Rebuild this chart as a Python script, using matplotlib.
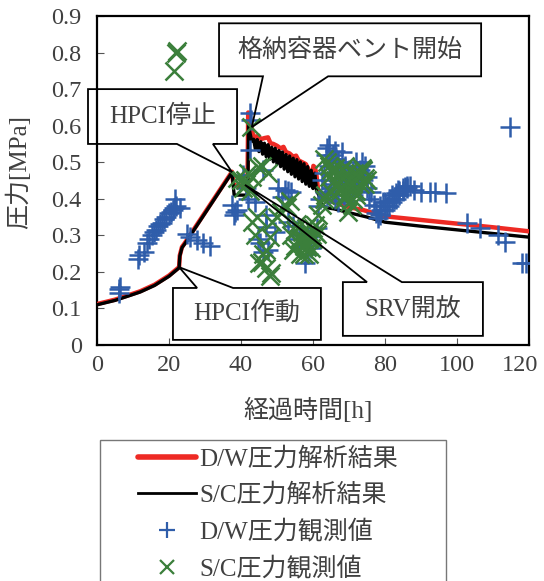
import matplotlib
matplotlib.use("Agg")
import matplotlib.pyplot as plt
from matplotlib.patches import Polygon, Rectangle
from matplotlib.lines import Line2D
from matplotlib.transforms import ScaledTranslation

plt.rcParams['font.family'] = ['Liberation Serif', 'Noto Sans CJK JP']

# ---- analysis results (time [h], pressure [MPa]) ----
dw_calc_t = [0, 5, 9, 12, 16, 20, 22.8, 23.0, 23.6, 24.4, 37.5, 37.9, 38.3, 41.8, 42.0, 42.5,
             43.3, 44.0, 44.8, 45.5, 46.5, 47.5, 48.2, 49.0, 50.0, 51.0, 51.8, 52.5, 53.5,
             54.5, 55.3, 56.0, 57.0, 58.0, 58.8, 59.3, 59.8, 60.1, 60.5, 60.9, 61.4, 62.2,
             64.0, 67.0, 70.0, 74.0, 80.0, 90.0, 100.0, 110.0, 120.0]
dw_calc_p = [0.112, 0.124, 0.137, 0.147, 0.165, 0.190, 0.213, 0.245, 0.268, 0.279, 0.474, 0.440,
             0.436, 0.436, 0.636, 0.622, 0.576, 0.567, 0.573, 0.563, 0.566, 0.568, 0.552,
             0.550, 0.545, 0.538, 0.542, 0.528, 0.524, 0.515, 0.518, 0.505, 0.500, 0.495,
             0.480, 0.452, 0.442, 0.490, 0.486, 0.470, 0.425, 0.410, 0.397, 0.386, 0.377,
             0.369, 0.352, 0.342, 0.332, 0.322, 0.311]

sc_calc_t = [0, 5, 9, 12, 16, 20, 22.8, 23.0, 23.6, 24.4, 37.5, 38.1, 41.5, 41.9, 42.1, 42.6,
             43.0, 43.5, 44.0, 44.5, 45.0, 45.5, 46.0, 46.5, 47.0, 47.5, 48.0, 48.5, 49.0,
             49.5, 50.0, 50.5, 51.0, 51.5, 52.0, 52.5, 53.0, 53.5, 54.0, 54.5, 55.0, 55.5,
             56.0, 56.5, 57.0, 57.5, 58.0, 58.5, 59.0, 59.5, 60.0, 60.5, 61.0, 61.5, 62.5,
             63.5, 66.0, 70.0, 75.0, 80.0, 90.0, 100.0, 110.0, 120.0]
sc_calc_p = [0.110, 0.122, 0.135, 0.145, 0.163, 0.188, 0.211, 0.243, 0.266, 0.277, 0.472, 0.410,
             0.410, 0.420, 0.600, 0.575, 0.558, 0.563, 0.535, 0.562, 0.529, 0.556, 0.522,
             0.552, 0.515, 0.548, 0.508, 0.541, 0.501, 0.538, 0.495, 0.532, 0.488, 0.528,
             0.481, 0.521, 0.474, 0.517, 0.467, 0.511, 0.460, 0.507, 0.454, 0.501, 0.447,
             0.496, 0.440, 0.488, 0.434, 0.478, 0.428, 0.470, 0.421, 0.412, 0.385, 0.376,
             0.372, 0.362, 0.350, 0.336, 0.325, 0.315, 0.305, 0.295]

# ---- observed values ----
dw_obs_t = [6.0, 6.2, 6.4, 11.5, 11.8, 13.0, 14.0, 14.5, 15.2, 15.8, 16.5, 17.0, 17.5, 18.0,
            18.5, 19.2, 20.0, 20.5, 21.0, 21.5, 22.0, 21.8, 23.0, 25.0, 25.8, 27.7, 29.5,
            31.3, 37.5, 38.0, 38.3, 38.9, 40.6, 41.5, 42.0, 42.5, 42.8, 42.5, 44.0, 44.8,
            45.2, 46.0, 47.5, 46.0, 47.0, 47.0, 49.5, 50.3, 51.5, 52.2, 53.0, 54.0, 53.0,
            54.5, 57.0, 57.8, 58.5, 59.5, 56.0, 61.0, 63.3, 63.5, 64.0, 64.5, 65.0, 66.0,
            67.0, 68.0, 69.0, 70.0, 71.0, 72.0, 73.6, 74.5, 64.0, 65.0, 66.0, 68.0, 70.0,
            72.0, 74.0, 75.0, 76.0, 77.0, 77.5, 78.0, 78.5, 79.0, 80.0, 80.5, 81.0, 82.0,
            82.5, 83.0, 83.6, 84.0, 85.0, 85.5, 86.0, 90.0, 92.5, 94.0, 97.0, 102.8, 106.4,
            111.4, 113.3, 114.7, 118.0, 119.2,
            62.5, 63.0, 64.5, 65.5, 66.5, 67.5, 68.5, 69.5, 70.5, 71.5, 72.5, 73.0, 74.0,
            75.0, 66.0, 67.0, 68.5, 71.0, 73.0, 75.5, 61.5, 62.0, 78.5, 79.5, 80.0, 81.0,
            82.0, 83.0, 84.0, 85.0, 86.0, 87.0, 88.0]
dw_obs_p = [0.142, 0.152, 0.160, 0.235, 0.245, 0.255, 0.280, 0.290, 0.300, 0.310, 0.315, 0.325,
            0.330, 0.335, 0.345, 0.350, 0.360, 0.365, 0.370, 0.375, 0.380, 0.400, 0.375,
            0.305, 0.296, 0.287, 0.280, 0.270, 0.383, 0.355, 0.365, 0.370, 0.465, 0.430,
            0.400, 0.636, 0.615, 0.533, 0.390, 0.290, 0.280, 0.255, 0.260, 0.480, 0.355,
            0.322, 0.310, 0.430, 0.405, 0.424, 0.420, 0.418, 0.336, 0.325, 0.300, 0.224,
            0.250, 0.265, 0.290, 0.320, 0.418, 0.520, 0.540, 0.547, 0.510, 0.530, 0.500,
            0.528, 0.490, 0.480, 0.470, 0.500, 0.500, 0.490, 0.410, 0.430, 0.440, 0.450,
            0.430, 0.440, 0.450, 0.430, 0.418, 0.383, 0.360, 0.347, 0.355, 0.370, 0.390,
            0.380, 0.395, 0.410, 0.400, 0.415, 0.424, 0.420, 0.430, 0.432, 0.435, 0.418,
            0.418, 0.418, 0.415, 0.333, 0.320, 0.300, 0.282, 0.596, 0.224, 0.224,
            0.450, 0.470, 0.490, 0.520, 0.510, 0.470, 0.460, 0.440, 0.450, 0.460, 0.470,
            0.480, 0.470, 0.460, 0.400, 0.390, 0.410, 0.410, 0.420, 0.400, 0.380, 0.400,
            0.380, 0.390, 0.370, 0.380, 0.390, 0.400, 0.410, 0.420, 0.430, 0.435, 0.425]

sc_obs_t = [21.5, 22.0, 22.3, 42.8, 39.0, 40.0, 41.0, 41.5, 40.5, 42.0, 43.0, 44.8, 45.8,
            47.5, 42.5, 43.0, 44.0, 44.4, 45.0, 45.8, 46.0, 47.0, 48.0, 48.2, 48.0, 47.0,
            48.7, 50.0, 51.0, 52.0, 52.7, 53.5, 54.0, 55.0, 55.5, 56.0, 57.0, 57.5, 58.3,
            59.0, 59.7, 60.0, 60.6, 61.4, 62.5, 63.0, 63.3, 54.5, 56.5, 58.0, 59.5, 61.0,
            63.0, 64.0, 65.0, 66.0, 67.0, 68.0, 68.5, 69.0, 69.8, 70.8, 71.5, 72.6, 73.6,
            74.4, 70.8, 72.0, 65.0, 66.5, 67.5, 71.0, 73.0, 74.0, 64.5, 69.0,
            64.5, 65.5, 66.0, 67.0, 68.0, 69.5, 70.0, 71.0, 72.0, 73.0, 74.5, 75.0, 67.5,
            68.5, 70.0, 72.0, 55.0, 56.0, 57.0, 58.0, 59.0, 60.0, 57.5, 59.0, 60.5, 58.0]
sc_obs_p = [0.750, 0.800, 0.805, 0.595, 0.457, 0.450, 0.450, 0.440, 0.430, 0.470, 0.460,
            0.487, 0.490, 0.470, 0.420, 0.336, 0.300, 0.350, 0.224, 0.227, 0.250, 0.210,
            0.190, 0.197, 0.295, 0.260, 0.336, 0.350, 0.365, 0.383, 0.378, 0.395, 0.300,
            0.315, 0.330, 0.290, 0.290, 0.270, 0.268, 0.300, 0.300, 0.320, 0.328, 0.355,
            0.383, 0.400, 0.410, 0.260, 0.250, 0.280, 0.265, 0.305, 0.510, 0.500, 0.480,
            0.484, 0.470, 0.457, 0.437, 0.490, 0.364, 0.446, 0.470, 0.465, 0.484, 0.457,
            0.383, 0.420, 0.418, 0.440, 0.430, 0.400, 0.440, 0.480, 0.460, 0.410,
            0.490, 0.470, 0.450, 0.440, 0.480, 0.470, 0.450, 0.440, 0.450, 0.470, 0.440,
            0.450, 0.420, 0.400, 0.390, 0.410, 0.270, 0.280, 0.310, 0.300, 0.290, 0.290,
            0.250, 0.250, 0.310, 0.320]

x_ticks = [0, 20, 40, 60, 80, 100, 120]
y_ticks = [0, 0.1, 0.2, 0.3, 0.4, 0.5, 0.6, 0.7, 0.8, 0.9]
y_tick_labels = ['0', '0.1', '0.2', '0.3', '0.4', '0.5', '0.6', '0.7', '0.8', '0.9']

# callout boxes: text, (x0, x1, y0, y1), pointer edge, pointer base (xa, xb), tip (x, y)
callouts = [
    ('格納容器ベント開始', (33.9, 106.7, 0.735, 0.880), 'bottom', (46.1, 64.2), (43.0, 0.596)),
    ('HPCI停止', (-2.5, 38.9, 0.550, 0.700), 'bottom', (22.2, 32.2), (37.5, 0.473)),
    ('HPCI作動', (21.1, 62.2, 0.014, 0.156), 'top', (27.8, 37.8), (22.8, 0.213)),
    ('SRV開放', (68.3, 107.2, 0.025, 0.172), 'top', (75.0, 84.7), (41.1, 0.438)),
]

TEXT = '#404040'
RED = '#EE2A24'
BLUE = '#2F5DAA'
GREEN = '#3B7F3B'

W, H = 544, 581
fig = plt.figure(figsize=(W / 100, H / 100), dpi=100)
ax = fig.add_axes([97 / W, 1 - 345 / H, 432 / W, 329 / H])

ax.plot(dw_calc_t, dw_calc_p, color=RED, lw=3.2, solid_joinstyle='round',
        solid_capstyle='round', zorder=3)
ax.plot(sc_calc_t, sc_calc_p, color='black', lw=2.4, zorder=3.1)
ax.plot(dw_obs_t, dw_obs_p, ls='none', marker='+', ms=15, mew=1.8, color=BLUE, zorder=4)
ax.plot(sc_obs_t, sc_obs_p, ls='none', marker='x', ms=13, mew=1.8, color=GREEN, zorder=4.1)

for text, (x0, x1, y0, y1), side, (xa, xb), tip in callouts:
    if side == 'bottom':
        verts = [(x0, y0), (xa, y0), tip, (xb, y0), (x1, y0), (x1, y1), (x0, y1)]
    else:
        verts = [(x0, y0), (x1, y0), (x1, y1), (xb, y1), tip, (xa, y1), (x0, y1)]
    ax.add_patch(Polygon(verts, closed=True, facecolor='white', edgecolor='none',
                         zorder=2, clip_on=False))
    ax.add_patch(Polygon(verts, closed=True, facecolor='none', edgecolor='black',
                         lw=1.3, zorder=6, clip_on=False, joinstyle='miter'))
    ax.text((x0 + x1) / 2, (y0 + y1) / 2, text, ha='center', va='center',
            fontsize=18, color=TEXT, zorder=7)

ax.set_xlim(0, 120)
ax.set_ylim(0, 0.9)
ax.set_xticks(x_ticks)
ax.set_yticks(y_ticks)
ax.set_yticklabels(y_tick_labels)
ax.tick_params(direction='in', length=5, width=0.8, color='#555555',
               labelsize=17.5, labelcolor=TEXT)
ax.tick_params(axis='y', pad=11)
ax.tick_params(axis='x', pad=7)
for sp in ax.spines.values():
    sp.set_linewidth(1.6)
    sp.set_color('black')

# keep the last x tick label inside the figure
last = ax.get_xticklabels()[-1]
last.set_transform(last.get_transform() + ScaledTranslation(-9 / 100, 0, fig.dpi_scale_trans))

fig.text(18 / W, 1 - 172 / H, '圧力[MPa]', rotation=90, ha='center', va='center',
         fontsize=18, color=TEXT)
fig.text(308 / W, 1 - 410 / H, '経過時間[h]', ha='center', va='center',
         fontsize=18, color=TEXT)

# legend frame
fig.patches.append(Rectangle((100 / W, -0.05), (446 - 100) / W, 1 - 440 / H + 0.05,
                             transform=fig.transFigure, facecolor='white',
                             edgecolor='#777777', lw=1.0, zorder=0))

handles = [
    Line2D([], [], color=RED, lw=4, solid_capstyle='round'),
    Line2D([], [], color='black', lw=2),
    Line2D([], [], ls='none', marker='+', ms=12, mew=1.6, color=BLUE),
    Line2D([], [], ls='none', marker='x', ms=10, mew=1.6, color=GREEN),
]
labels = ['D/W圧力解析結果', 'S/C圧力解析結果', 'D/W圧力観測値', 'S/C圧力観測値']
leg = fig.legend(handles, labels, loc='upper left', bbox_to_anchor=(138 / W, 1 - 447 / H),
                 fontsize=18, frameon=False, handlelength=2.3, handletextpad=0.15,
                 labelspacing=0.52, borderpad=0.0, borderaxespad=0, labelcolor=TEXT)

fig.savefig('out.png', dpi=100)
